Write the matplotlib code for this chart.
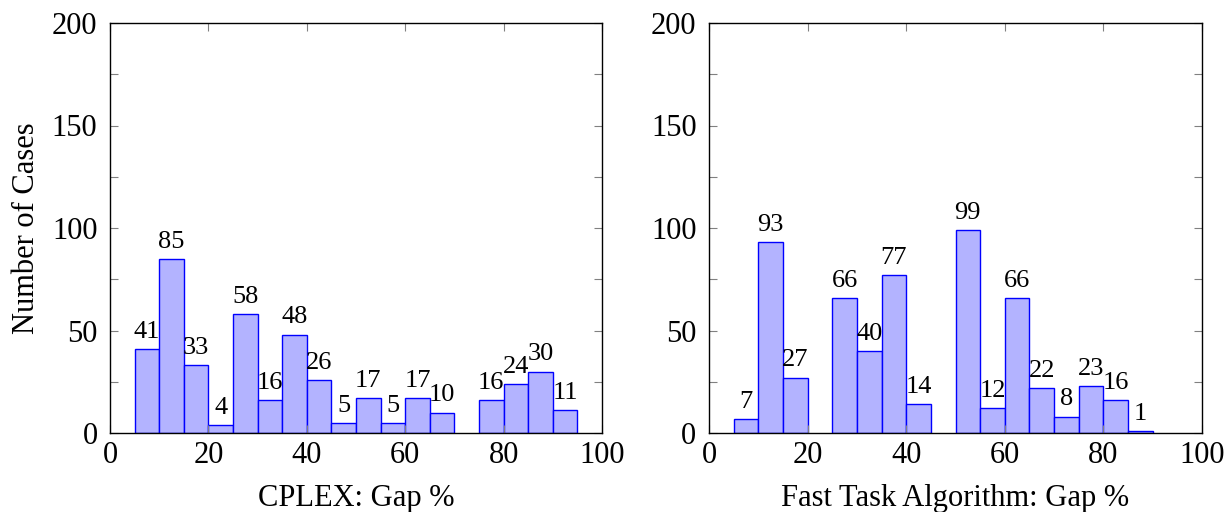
import numpy as np
import matplotlib.pyplot as plt
from matplotlib.ticker import MultipleLocator

# ── Data ──────────────────────────────────────────────────────────────────────

bin_left = [5, 10, 15, 20, 25, 30, 35, 40, 45, 50, 55, 60, 65, 70, 75, 80, 85, 90]
cplex_counts = [41, 85, 33, 4, 58, 16, 48, 26, 5, 17, 5, 17, 10, 0, 16, 24, 30, 11]
fast_counts = [7, 93, 27, 0, 66, 40, 77, 14, 0, 99, 12, 66, 22, 8, 23, 16, 1, 0]
BIN_W = 5

xlabels = ["CPLEX: Gap %", "Fast Task Algorithm: Gap %"]

# ── Style ─────────────────────────────────────────────────────────────────────

plt.rcParams["font.family"] = ["Liberation Serif", "DejaVu Serif"]
FS = 22       # ticks and axis labels
FS_BAR = 19   # numbers above bars

fig = plt.figure(figsize=(12.32, 5.12), dpi=100)
ax_l = fig.add_axes([110 / 1232, 1 - 433 / 512, 492 / 1232, 410 / 512])
ax_r = fig.add_axes([709 / 1232, 1 - 433 / 512, 493 / 1232, 410 / 512])


def draw(ax, counts, xlabel):
    for x0, c in zip(bin_left, counts):
        if c == 0:
            continue
        ax.bar(x0, c, width=BIN_W, align="edge", color="#b3b3ff",
               edgecolor="#0000ff", linewidth=1.0)
        ax.text(x0 + BIN_W / 2, c + 3, str(c), ha="center", va="bottom",
                fontsize=FS_BAR)
    ax.set_xlim(0, 100)
    ax.set_ylim(0, 200)
    ax.xaxis.set_major_locator(MultipleLocator(20))
    ax.yaxis.set_major_locator(MultipleLocator(50))
    ax.yaxis.set_minor_locator(MultipleLocator(25))
    ax.tick_params(which="both", direction="in", top=True, right=True,
                   length=6, width=0.8, color="#808080", labelsize=FS)
    ax.tick_params(axis="x", pad=6)
    ax.tick_params(axis="y", pad=9)
    for sp in ax.spines.values():
        sp.set_linewidth(1.0)
    ax.set_xlabel(xlabel, fontsize=FS, labelpad=10)


draw(ax_l, cplex_counts, xlabels[0])
draw(ax_r, fast_counts, xlabels[1])
ax_l.set_ylabel("Number of Cases", fontsize=FS, labelpad=8)

plt.savefig("out.png", dpi=100)
